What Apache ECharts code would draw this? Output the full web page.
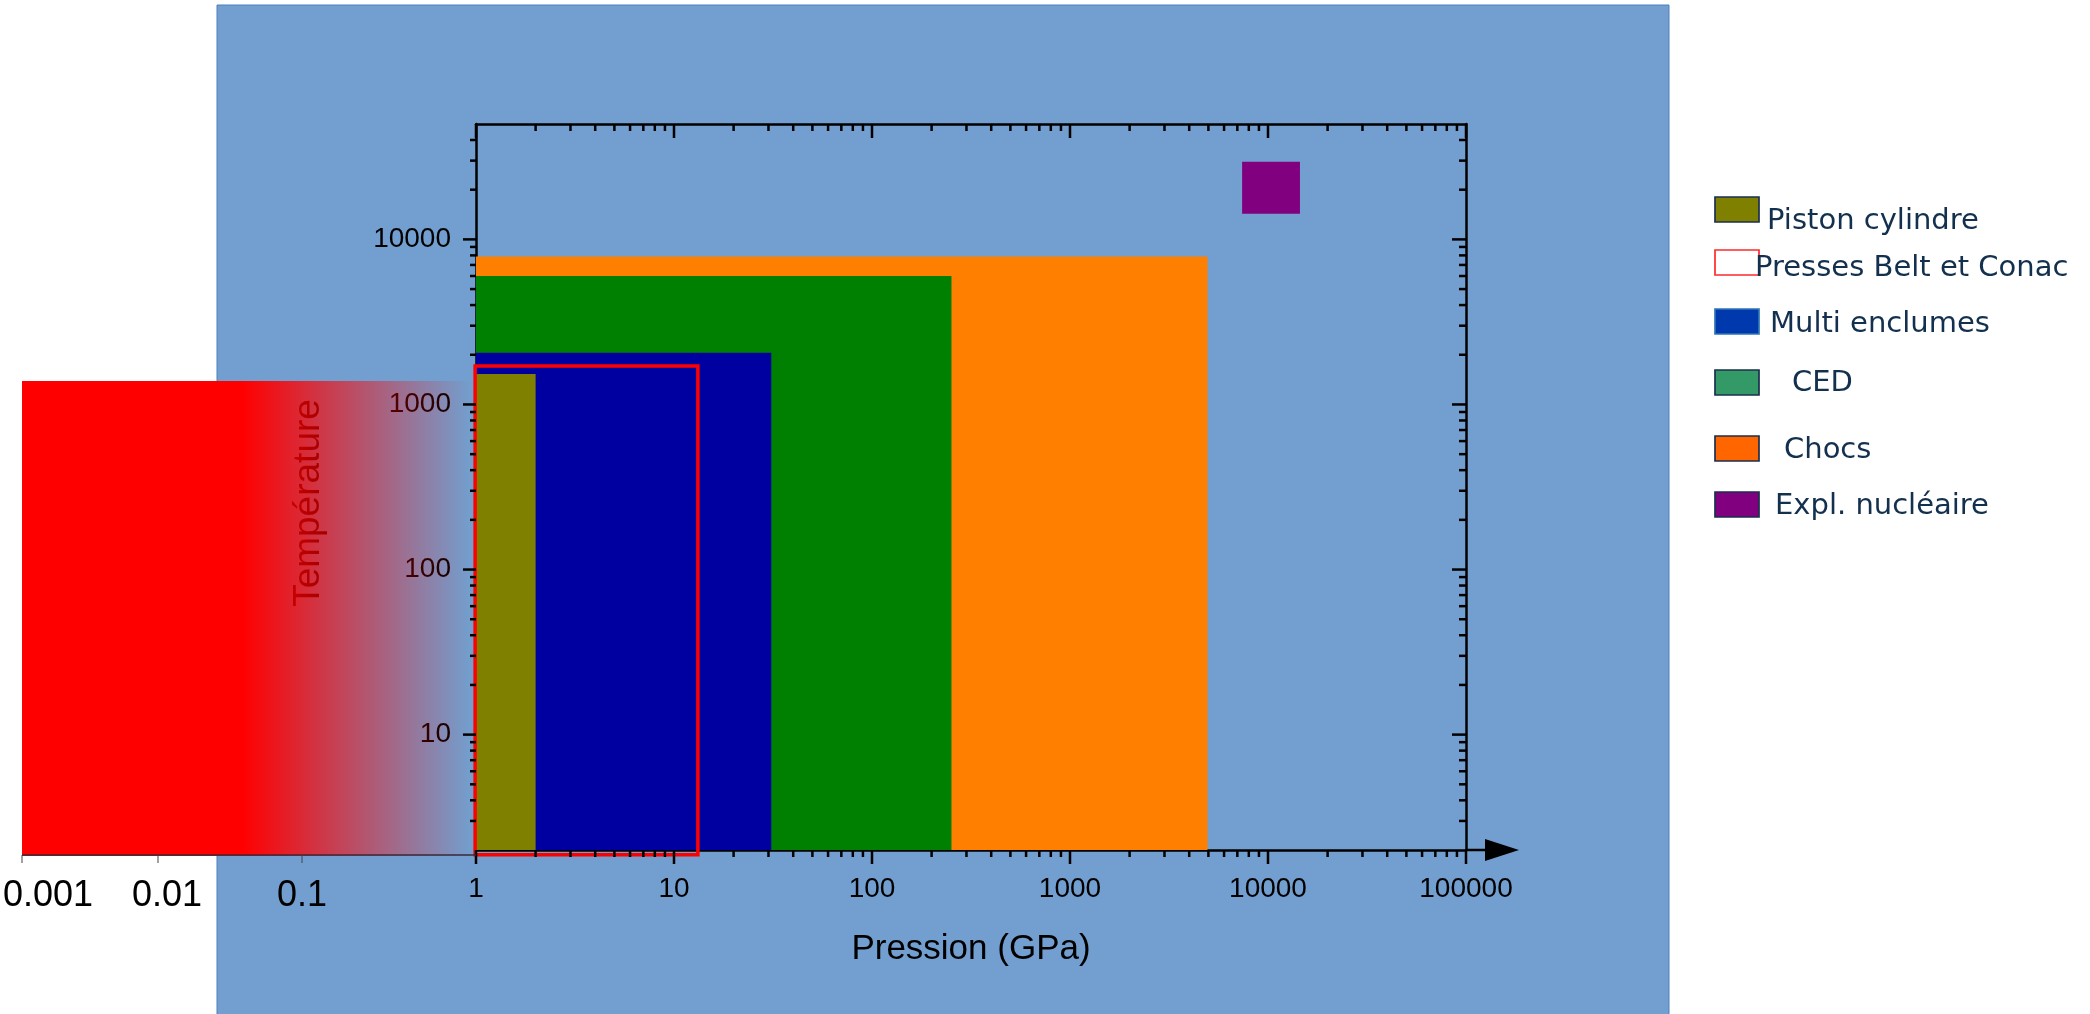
<!DOCTYPE html>
<html><head><meta charset="utf-8">
<script src="https://cdn.jsdelivr.net/npm/echarts@6/dist/echarts.min.js"></script>
<style>html,body{margin:0;padding:0;background:#fff}#c{width:2090px;height:1014px}</style>
</head><body><div id="c"></div>
<script>
// ---- data ----
const seriesNames = ['Piston cylindre', 'Presses Belt et Conac', 'Multi enclumes', 'CED', 'Chocs', 'Expl. nucléaire'];
// each domain: [P min (GPa), P max (GPa), T min, T max]
const pistonCylindre = [1, 2, 2, 1530];
const pressesBeltConac = [0.99, 13.2, 1.87, 1710];
const multiEnclumes = [1, 31, 2, 2060];
const ced = [1, 252, 2, 6000];
const chocs = [1, 4950, 2, 7870];
const explNucleaire = [7400, 14500, 14300, 29500];

const xTickLabels = ['1', '10', '100', '1000', '10000', '100000'];
const yTickLabels = ['10', '100', '1000', '10000'];
const extTickLabels = ['0.001', '0.01', '0.1'];

const xRange = [1, 100000];
const yRange = [2, 50000];

// ---- styles ----
const areaColors = {
  'Piston cylindre': '#808000', 'Presses Belt et Conac': '#ff0000', 'Multi enclumes': '#0000a0',
  'CED': '#008000', 'Chocs': '#ff8000', 'Expl. nucléaire': '#800080'
};
const legendFill = ['#808000', '#ffffff', '#0039ae', '#339966', '#ff6600', '#800080'];
const legendStroke = ['#1b2f4f', '#ff2a2a', '#2e75b6', '#1b2f4f', '#1b2f4f', '#1b2f4f'];
const legendBoxY = [197, 250, 309, 370, 436, 492];
const legendTextX = [1767, 1755, 1770, 1792, 1784, 1775];
const legendTextY = [221, 268, 324, 383, 450, 506];
const extTickX = [22, 158, 302];
const extLabelX = [48, 167, 302];

// axis tick positions (log decades with 2..9 minors)
const xMajor = [], xMinor = [], yMajor = [], yMinor = [];
for (let k = 0; k <= 5; k++) xMajor.push(Math.pow(10, k));
for (let k = 0; k < 5; k++) for (let m = 2; m <= 9; m++) xMinor.push(m * Math.pow(10, k));
for (let k = 1; k <= 4; k++) yMajor.push(Math.pow(10, k));
for (let k = 0; k <= 4; k++) for (let m = 2; m <= 9; m++) { const v = m * Math.pow(10, k); if (v > yRange[0] && v < yRange[1]) yMinor.push(v); }

const labelFont = '"Liberation Sans", Arial, sans-serif';

function rectRender(color, outline) {
  return function (params, api) {
    const p0 = api.coord([api.value(0), api.value(2)]);
    const p1 = api.coord([api.value(1), api.value(3)]);
    const x = Math.min(p0[0], p1[0]), y = Math.min(p0[1], p1[1]);
    const w = Math.abs(p1[0] - p0[0]), h = Math.abs(p1[1] - p0[1]);
    return {
      type: 'rect', shape: { x: x, y: y, width: w, height: h },
      style: outline ? { fill: 'none', stroke: color, lineWidth: 3.5 } : { fill: color }
    };
  };
}
function areaSeries(name, arr, outline, z) {
  return {
    type: 'custom', name: name, xAxisIndex: 0, yAxisIndex: 0, clip: false, z: z, silent: true,
    encode: { x: [0, 1], y: [2, 3] },
    data: [arr], renderItem: rectRender(areaColors[name], outline)
  };
}

const xTickData = xMajor.map(v => [v, 10, 1]).concat(xMinor.map(v => [v, 10, 0]));
const yTickData = yMajor.map(v => [1, v, 1]).concat(yMinor.map(v => [1, v, 0]));

const tickStyle = { stroke: '#000', lineWidth: 2.5 };
const tickSeriesX = {
  type: 'custom', xAxisIndex: 0, yAxisIndex: 0, clip: false, z: 10, silent: true,
  encode: { x: 0, y: 1 }, data: xTickData,
  renderItem: function (params, api) {
    const v = api.value(0), major = api.value(2);
    const b = api.coord([v, yRange[0]]), t = api.coord([v, yRange[1]]);
    const L = major ? 14 : 7;
    return { type: 'group', children: [
      { type: 'line', shape: { x1: b[0], y1: b[1], x2: b[0], y2: b[1] + L }, style: tickStyle },
      { type: 'line', shape: { x1: t[0], y1: t[1], x2: t[0], y2: t[1] + L }, style: tickStyle }
    ] };
  }
};
const tickSeriesY = {
  type: 'custom', xAxisIndex: 0, yAxisIndex: 0, clip: false, z: 10, silent: true,
  encode: { x: 0, y: 1 }, data: yTickData,
  renderItem: function (params, api) {
    const v = api.value(1), major = api.value(2);
    const l = api.coord([xRange[0], v]), r = api.coord([xRange[1], v]);
    const Ll = major ? 13 : 6, Lr = major ? 14 : 7;
    return { type: 'group', children: [
      { type: 'line', shape: { x1: l[0] - Ll, y1: l[1], x2: l[0], y2: l[1] }, style: tickStyle },
      { type: 'line', shape: { x1: r[0] - Lr, y1: r[1], x2: r[0], y2: r[1] }, style: tickStyle }
    ] };
  }
};

// ---- graphics (background, overlay, legend) ----
const graphics = [
  { type: 'rect', z: -100, silent: true, shape: { x: 217, y: 5, width: 1452, height: 1020 },
    style: { fill: '#729fcf', stroke: '#4f7fbf', lineWidth: 1 } },
  { type: 'rect', z: 200, silent: true, shape: { x: 22, y: 381, width: 450, height: 475 },
    style: { fill: { type: 'linear', x: 0, y: 0, x2: 1, y2: 0, colorStops: [
      { offset: 0, color: 'rgba(255,0,0,1)' }, { offset: 0.49, color: 'rgba(255,0,0,1)' },
      { offset: 1, color: 'rgba(255,0,0,0)' }] } } },
  { type: 'line', z: 210, silent: true, shape: { x1: 22, y1: 855, x2: 476, y2: 855 },
    style: { stroke: '#3a2a3a', lineWidth: 1.5 } },
  { type: 'line', z: 210, silent: true, shape: { x1: 1466, y1: 850, x2: 1490, y2: 850 },
    style: { stroke: '#000', lineWidth: 2.5 } }
];
extTickLabels.forEach((t, i) => {
  graphics.push({ type: 'line', z: 210, silent: true,
    shape: { x1: extTickX[i], y1: 855, x2: extTickX[i], y2: 863 }, style: { stroke: '#444', lineWidth: 1 } });
  graphics.push({ type: 'text', z: 210, silent: true, x: extLabelX[i], y: 896,
    style: { text: t, fill: '#000', font: '36px ' + labelFont, textAlign: 'center', textVerticalAlign: 'middle' } });
});
seriesNames.forEach((n, i) => {
  graphics.push({ type: 'rect', z: 210, silent: true,
    shape: { x: 1715, y: legendBoxY[i], width: 44, height: 25 },
    style: { fill: legendFill[i], stroke: legendStroke[i], lineWidth: 1.7 } });
  graphics.push({ type: 'text', z: 211, silent: true, x: legendTextX[i], y: legendTextY[i],
    style: { text: n, fill: '#13304f', font: '29px "DejaVu Sans", Verdana, sans-serif',
      textAlign: 'left', textVerticalAlign: 'middle' } });
});

const chart = echarts.init(document.getElementById('c'), null, { renderer: 'canvas' });
chart.setOption({
  animation: false,
  backgroundColor: '#ffffff',
  grid: { left: 476, top: 124, width: 990, height: 726, containLabel: false, outerBoundsMode: 'none' },
  xAxis: [{
    type: 'log', logBase: 10, min: xRange[0], max: xRange[1], position: 'bottom',
    name: 'Pression (GPa)', nameLocation: 'middle', nameGap: 82,
    nameTextStyle: { color: '#000', fontSize: 35, fontFamily: labelFont },
    axisLine: { show: true, onZero: false, symbol: ['none', 'triangle'], symbolSize: [22, 34], symbolOffset: [0, 36],
      lineStyle: { color: '#000', width: 2.5 } },
    axisTick: { show: false }, minorTick: { show: false }, splitLine: { show: false },
    axisLabel: { show: true, margin: 25, color: '#000', fontSize: 28, fontFamily: labelFont,
      showMinLabel: true, showMaxLabel: true,
      formatter: function (v) { const k = Math.round(Math.log10(v)); return xTickLabels[k] || ''; } }
  }, {
    type: 'log', logBase: 10, min: xRange[0], max: xRange[1], position: 'top',
    axisLine: { show: true, onZero: false, lineStyle: { color: '#000', width: 2.5 } },
    axisTick: { show: false }, axisLabel: { show: false }, splitLine: { show: false }
  }],
  yAxis: [{
    type: 'log', logBase: 10, min: yRange[0], max: yRange[1], position: 'left',
    name: 'Température', nameLocation: 'middle', nameGap: 149,
    nameTextStyle: { color: '#000', fontSize: 37, fontFamily: labelFont, padding: [0, 32, 0, 0] },
    axisLine: { show: true, onZero: false, lineStyle: { color: '#000', width: 2.5 } },
    axisTick: { show: false }, minorTick: { show: false }, splitLine: { show: false },
    axisLabel: { show: true, margin: 25, color: '#000', fontSize: 28, fontFamily: labelFont,
      showMinLabel: false, showMaxLabel: false,
      formatter: function (v) { const s = String(Math.round(v)); return yTickLabels.indexOf(s) >= 0 ? s : ''; } }
  }, {
    type: 'log', logBase: 10, min: yRange[0], max: yRange[1], position: 'right',
    axisLine: { show: true, onZero: false, lineStyle: { color: '#000', width: 2.5 } },
    axisTick: { show: false }, axisLabel: { show: false }, splitLine: { show: false }
  }],
  graphic: { elements: graphics },
  series: [
    areaSeries('Chocs', chocs, false, 2),
    areaSeries('CED', ced, false, 3),
    areaSeries('Multi enclumes', multiEnclumes, false, 4),
    areaSeries('Piston cylindre', pistonCylindre, false, 5),
    areaSeries('Presses Belt et Conac', pressesBeltConac, true, 6),
    areaSeries('Expl. nucléaire', explNucleaire, false, 5),
    tickSeriesX, tickSeriesY
  ]
});
</script></body></html>
